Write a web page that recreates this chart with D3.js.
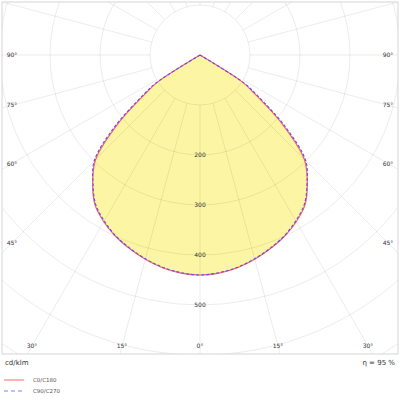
<html>
<head>
<script src="https://d3js.org/d3.v7.min.js"></script>
<style>
  body { margin: 0; background: #fff; }
  text { font-family: "DejaVu Sans", sans-serif; }
</style>
</head>
<body>
<div id="main"></div>
<script>
// gamma angles (deg) and intensities in cd/klm
const gammas  = [0, 5, 10, 15, 20, 25, 30, 35, 40, 45, 50, 55, 57.5, 60, 65, 70, 75, 80, 85, 90];
const c0c180  = [440, 438, 432, 423, 412, 400, 385, 366, 334, 295, 215, 130, 100, 0, 0, 0, 0, 0, 0, 0];
const c90c270 = [440, 437, 431, 422, 411, 399, 383, 364, 333, 299, 222, 137, 106, 0, 0, 0, 0, 0, 0, 0];

const ringValues = [100, 200, 300, 400, 500, 600, 700];
const ringLabels = [200, 300, 400, 500];
const spokeAngles = d3.range(0, 360, 15);
const angleLabels = [0, 15, 30, 45, 60, 75, 90];
const legendNames = ["C0/C180", "C90/C270"];
const unitLabel = "cd/klm";
const effLabel = "η = 95 %";

var width = 400, height = 400;
var cx = 200, cy = 55;
var frame = { x0: 2, y0: 2, x1: 398, y1: 354 };

var svg = d3.select("#main")
    .append("svg")
    .attr("width", width)
    .attr("height", height);

svg.append("defs").append("clipPath")
    .attr("id", "clip")
    .append("rect")
    .attr("x", frame.x0).attr("y", frame.y0)
    .attr("width", frame.x1 - frame.x0).attr("height", frame.y1 - frame.y0);

// 100 cd/klm = 50 px
var r = d3.scaleLinear().domain([0, 100]).range([0, 50]);

var plot = svg.append("g").attr("clip-path", "url(#clip)");
var g = plot.append("g").attr("transform", "translate(" + cx + "," + cy + ")");

// build closed outline: left half (C180 / C270) then right half (C0 / C90)
function outline(vals) {
    var pts = [];
    for (var i = gammas.length - 1; i >= 0; i--) pts.push([Math.PI + gammas[i] * Math.PI / 180, vals[i]]);
    for (var i = 1; i < gammas.length; i++) pts.push([Math.PI - gammas[i] * Math.PI / 180, vals[i]]);
    return pts;
}

var line = d3.lineRadial()
    .angle(function (d) { return d[0]; })
    .radius(function (d) { return r(d[1]); })
    .curve(d3.curveCatmullRom.alpha(0.5));

// fill
g.append("path")
    .attr("d", line(outline(c0c180)) + "Z")
    .attr("fill", "#fcf6a4")
    .attr("stroke", "none");

// grid
g.selectAll(".ring")
    .data(ringValues)
    .enter()
    .append("circle")
    .attr("r", function (d) { return r(d); })
    .attr("fill", "none")
    .attr("stroke", "#000")
    .attr("stroke-opacity", 0.1)
    .attr("stroke-width", 0.8);

g.selectAll(".spoke")
    .data(spokeAngles)
    .enter()
    .append("line")
    .attr("x1", function (d) { return -r(100) * Math.sin(d * Math.PI / 180); })
    .attr("y1", function (d) { return r(100) * Math.cos(d * Math.PI / 180); })
    .attr("x2", function (d) { return -r(900) * Math.sin(d * Math.PI / 180); })
    .attr("y2", function (d) { return r(900) * Math.cos(d * Math.PI / 180); })
    .attr("stroke", "#000")
    .attr("stroke-opacity", 0.1)
    .attr("stroke-width", 0.8);

// curves
g.append("path")
    .attr("d", line(outline(c0c180)))
    .attr("fill", "none")
    .attr("stroke", "#ff6060")
    .attr("stroke-width", 1.2);

g.append("path")
    .attr("d", line(outline(c90c270)))
    .attr("fill", "none")
    .attr("stroke", "#5050ff")
    .attr("stroke-width", 1.1)
    .attr("stroke-dasharray", "3,2");

// frame
svg.append("rect")
    .attr("x", frame.x0).attr("y", frame.y0)
    .attr("width", frame.x1 - frame.x0).attr("height", frame.y1 - frame.y0)
    .attr("fill", "none")
    .attr("stroke", "#ddd")
    .attr("stroke-width", 1.2);

// intensity labels along 0 deg
svg.selectAll(".rlab")
    .data(ringLabels)
    .enter()
    .append("text")
    .attr("x", cx)
    .attr("y", function (d) { return cy + r(d); })
    .attr("dy", "0.35em")
    .attr("text-anchor", "middle")
    .style("font-size", "6px")
    .style("fill", "#333")
    .text(function (d) { return d; });

// angle labels where spokes meet an inset of the frame
var inset = { x0: 12, x1: 388, y1: 346 };
function labelPos(a, side) {
    var t = a * Math.PI / 180, s = Math.sin(t), c = Math.cos(t);
    var tx = (side < 0 ? cx - inset.x0 : inset.x1 - cx) / (s || 1e-9);
    var ty = c > 1e-9 ? (inset.y1 - cy) / c : Infinity;
    var k = Math.min(tx, ty);
    return [cx + side * k * s, cy + k * c];
}
var angleData = [];
angleLabels.forEach(function (a) {
    angleData.push({ a: a, p: labelPos(a, -1) });
    if (a > 0) angleData.push({ a: a, p: labelPos(a, 1) });
});
svg.selectAll(".alab")
    .data(angleData)
    .enter()
    .append("text")
    .attr("x", function (d) { return d.p[0]; })
    .attr("y", function (d) { return d.p[1]; })
    .attr("dy", "0.35em")
    .attr("text-anchor", "middle")
    .style("font-size", "6px")
    .style("fill", "#333")
    .text(function (d) { return d.a + "°"; });

// footer
svg.append("text")
    .attr("x", 5).attr("y", 363).attr("dy", "0.35em")
    .style("font-size", "7px").style("fill", "#333")
    .text(unitLabel);
svg.append("text")
    .attr("x", 395).attr("y", 363).attr("dy", "0.35em")
    .attr("text-anchor", "end")
    .style("font-size", "7px").style("fill", "#333")
    .text(effLabel);

// legend
var legend = svg.selectAll(".leg")
    .data(legendNames)
    .enter()
    .append("g")
    .attr("transform", function (d, i) { return "translate(4," + (380 + i * 11) + ")"; });
legend.append("line")
    .attr("x1", 0).attr("x2", 20).attr("y1", 0).attr("y2", 0)
    .attr("stroke", function (d, i) { return i == 0 ? "#ff8080" : "#8080ff"; })
    .attr("stroke-width", 1.2)
    .attr("stroke-dasharray", function (d, i) { return i == 0 ? null : "4,3"; });
legend.append("text")
    .attr("x", 29).attr("y", 0).attr("dy", "0.35em")
    .style("font-size", "5.5px").style("fill", "#555")
    .text(function (d) { return d; });
</script>
</body>
</html>
